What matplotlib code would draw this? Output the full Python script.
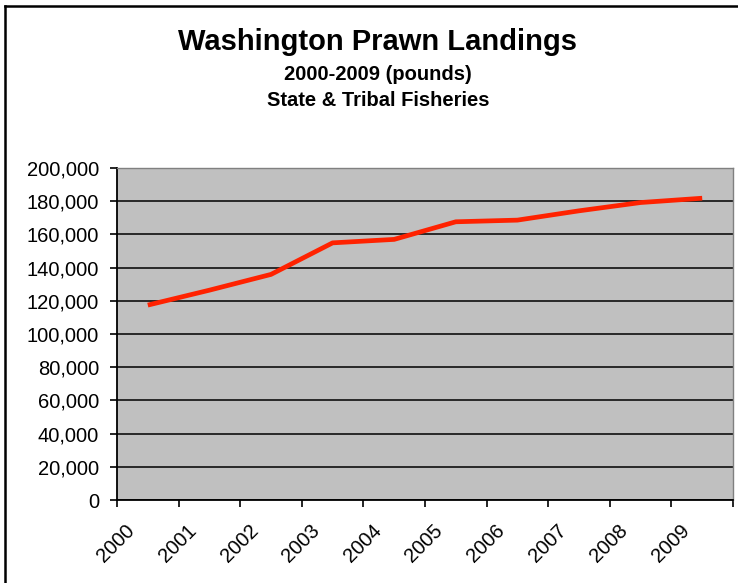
import numpy as np
import matplotlib.pyplot as plt
import matplotlib.transforms as mtransforms
from matplotlib.ticker import FuncFormatter

# Data (pounds)
years = ['2000', '2001', '2002', '2003', '2004', '2005', '2006', '2007', '2008', '2009']
landings = [117400, 126400, 135900, 154900, 157000, 167600, 168600, 174200, 179200, 181800]

plt.rcParams['font.family'] = ['Liberation Sans', 'DejaVu Sans']

fig = plt.figure(figsize=(7.38, 5.83), dpi=100)
W, H = 738, 583
ax = fig.add_axes([117 / W, 1 - 500 / H, (733 - 117) / W, (500 - 168) / H])
ax.set_facecolor('#C0C0C0')

x = np.arange(len(years))
ax.plot(x, landings, color='#FF2200', lw=3.4, solid_capstyle='butt', zorder=3)

ax.set_xlim(-0.5, len(years) - 0.5)
ax.set_ylim(0, 200000)
ax.set_yticks(np.arange(0, 200001, 20000))
ax.yaxis.set_major_formatter(FuncFormatter(lambda v, p: f'{int(v):,}'))
ax.grid(axis='y', color='black', lw=1.1, zorder=1)

ax.tick_params(axis='both', labelsize=14.5, direction='out', length=5, width=1.2,
               color='black')
ax.tick_params(axis='x', pad=8)
ax.tick_params(axis='y', pad=8)

ax.set_xticks(np.arange(-0.5, len(years), 1.0))
ax.set_xticklabels(years + [''], rotation=45, ha='right', va='center',
                   rotation_mode='anchor')
# shift rotated labels so their ends sit just right of the tick, as in Excel
offset = mtransforms.ScaledTranslation(15 / 100, -10 / 100, fig.dpi_scale_trans)
for lab in ax.get_xticklabels():
    lab.set_transform(lab.get_transform() + offset)

for s in ['left', 'bottom']:
    ax.spines[s].set_color('black')
    ax.spines[s].set_linewidth(1.3)
for s in ['top', 'right']:
    ax.spines[s].set_color('#808080')
    ax.spines[s].set_linewidth(1.0)

fig.text(378 / W, 1 - 42 / H, 'Washington Prawn Landings', ha='center', va='center',
         fontsize=21, fontweight='bold')
fig.text(378 / W, 1 - 74 / H, '2000-2009 (pounds)', ha='center', va='center',
         fontsize=14.5, fontweight='bold')
fig.text(378 / W, 1 - 101 / H, 'State & Tribal Fisheries', ha='center', va='center',
         fontsize=14.5, fontweight='bold')

# chart border (only top and left visible)
fig.add_artist(plt.Line2D([5 / W, 1], [1 - 6 / H, 1 - 6 / H], color='black', lw=1.8))
fig.add_artist(plt.Line2D([5 / W, 5 / W], [0, 1 - 6 / H], color='black', lw=1.8))

fig.savefig('out.png', dpi=100)
